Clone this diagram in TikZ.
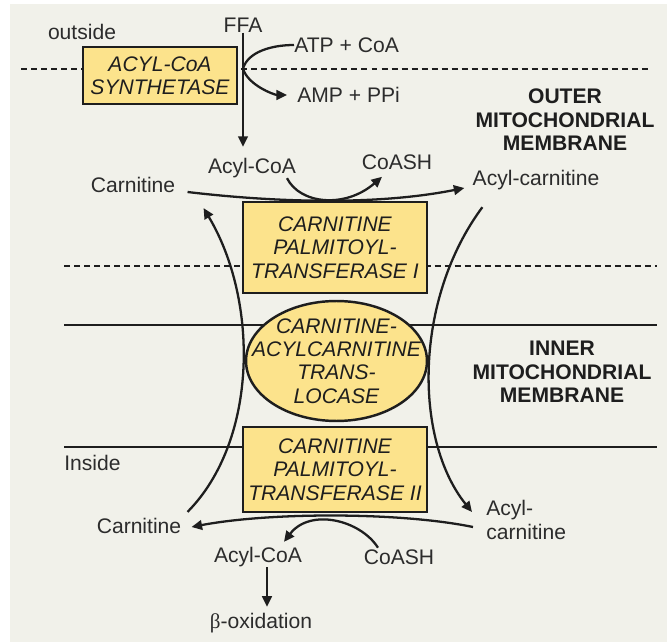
\documentclass[tikz,border=0pt]{standalone}
\usepackage{fontspec}
\setmainfont{Liberation Sans}
\newfontfamily\greekserif{Liberation Serif}
\usepackage{tikz}
\usetikzlibrary{shapes.geometric,arrows.meta,positioning,calc}
\definecolor{MembBg}   {HTML}{F1F1EA}
\definecolor{EnzYellow}{HTML}{FCE38C}
\definecolor{InkDark}  {HTML}{1E1E1E}
\definecolor{TextGray} {HTML}{2C2C2C}
\tikzset{
  lbl/.style={font=\fontsize{12}{13.3}\selectfont,text=TextGray,inner sep=0pt},
  membtxt/.style={font=\fontsize{12}{13.4}\selectfont\bfseries,text=InkDark,align=center,inner sep=0pt},
  enzbox/.style={draw=InkDark,line width=1.4pt,fill=EnzYellow,font=\fontsize{12}{13.3}\selectfont\itshape,
    text=InkDark,align=center,inner sep=0pt},
  transloc/.style={ellipse,draw=InkDark,line width=1.4pt,fill=EnzYellow,
    minimum width=3.62cm,minimum height=2.4cm,inner sep=0pt},
  enzlbl/.style={font=\fontsize{12}{13.3}\selectfont\itshape,text=InkDark,align=center,inner sep=0pt},
  flow/.style={line width=1.3pt,draw=InkDark},
  arr/.style={flow,-{Triangle[length=6pt,width=5.5pt]}},
  membline/.style={line width=1.4pt,draw=InkDark},
  dashline/.style={membline,dash pattern=on 3.4pt off 2.3pt}
}

\begin{document}
\begin{tikzpicture}[x=0.02cm,y=-0.02cm]
  % Frame
  \useasboundingbox (0,0) rectangle (667,642);
  \fill[white] (0,0) rectangle (667,642);
  \fill[MembBg] (10,4) rectangle (667,642);
  % Membranes
  \draw[dashline] (21,69) -- (648,69);
  \draw[dashline] (64,266) -- (657,266);
  \draw[membline] (64,325) -- (657,325);
  \draw[membline] (64,447) -- (657,447);
  % Labels
  \node[lbl] (outside) at (82,32) {outside};
  \node[lbl] (ffa) at (243,25) {FFA};
  \node[lbl,anchor=west] (atp) at (294,45) {ATP + CoA};
  \node[lbl,anchor=west] (amp) at (297,95) {AMP + PPi};
  \node[membtxt] (outer) at (565,120) {OUTER\\MITOCHONDRIAL\\MEMBRANE};
  \node[lbl] (acoa1) at (252,168) {Acyl-CoA};
  \node[lbl] (coash1) at (397,162) {CoASH};
  \node[lbl] (carn1) at (133,185) {Carnitine};
  \node[lbl] (acarn1) at (536,180) {Acyl-carnitine};
  \node[membtxt] (inner) at (562,372) {INNER\\MITOCHONDRIAL\\MEMBRANE};
  \node[lbl,anchor=west] (inside) at (64,463) {Inside};
  \node[lbl] (carn2) at (139,526) {Carnitine};
  \node[lbl,anchor=west,align=left] (acarn2) at (486,520) {Acyl-\\carnitine};
  \node[lbl] (acoa2) at (258,557) {Acyl-CoA};
  \node[lbl] (coash2) at (399,557) {CoASH};
  \node[lbl] (beta) at (261,623) {{\greekserif β}-oxidation};
  % Branch points
  \coordinate (branch) at ($(ffa.south)+(0,36)$);
  \coordinate (c1a) at ($(carn1.east)+(12,7)$);
  \coordinate (c1b) at ($(acarn1.west)+(-8,8)$);
  \coordinate (c1c) at ($(carn1.south east)+(28,15)$);
  \coordinate (a1c) at ($(acarn1.south west)+(10,17)$);
  \coordinate (c2a) at ($(carn2.north east)+(6,-6)$);
  \coordinate (c2b) at ($(carn2.east)+(10,1)$);
  \coordinate (a2a) at ($(acarn2.west)+(-14,-8)$);
  \coordinate (a2b) at ($(acarn2.west)+(-13,7)$);
  \coordinate (a2foot) at ($(acoa2.south)+(9,0)$);
  % Outside reactions
  \draw[arr,shorten >=0.22cm] (ffa.south) -- (ffa.south |- acoa1.north);
  \draw[flow] (branch) .. controls +(5,-17) and +(-22,0) .. (atp.west);
  \draw[arr,shorten >=0.2cm] (branch) .. controls +(5,17) and +(-22,0) .. (amp.west);
  \draw[arr] (c1a) .. controls +(93,11) and +(-85,17) .. (c1b);
  \draw[arr] ($(acoa1.south)+(35,0)$) .. controls +(13,26) and +(-37,32) .. ($(coash1.south)+(-15,7)$);
  % Transport across membranes
  \draw[arr] (c2a) .. controls +(71,-72) and +(55,92) .. (c1c);
  \draw[arr] (a1c) .. controls +(-69,93) and +(-58,-72) .. (a2a);
  % Inside reactions
  \draw[arr] (a2b) .. controls +(-73,-15) and +(79,-15) .. (c2b);
  \draw[arr] ($(coash2.north)+(-21,-1.5)$) .. controls +(-18,-28) and +(26,-34) .. ($(acoa2.north)+(26,-5)$);
  \draw[arr,shorten >=0.12cm] (a2foot) -- (a2foot |- beta.north);
  % Enzymes
  \node[enzbox,minimum width=3.08cm,minimum height=1.14cm] (acs) at (160,75.5) {ACYL-CoA\\SYNTHETASE};
  \node[enzbox,minimum width=3.68cm,minimum height=1.82cm] (cpt1) at (335,247.5) {CARNITINE\\PALMITOYL-\\TRANSFERASE I};
  \node[transloc] (cact) at (336.5,361) {};
  \node[enzlbl] (cacttxt) at (cact.center) {CARNITINE-\\ACYLCARNITINE\\TRANS-\\LOCASE};
  \node[enzbox,minimum width=3.68cm,minimum height=1.70cm] (cpt2) at (335,469.5) {CARNITINE\\PALMITOYL-\\TRANSFERASE II};
\end{tikzpicture}
\end{document}
